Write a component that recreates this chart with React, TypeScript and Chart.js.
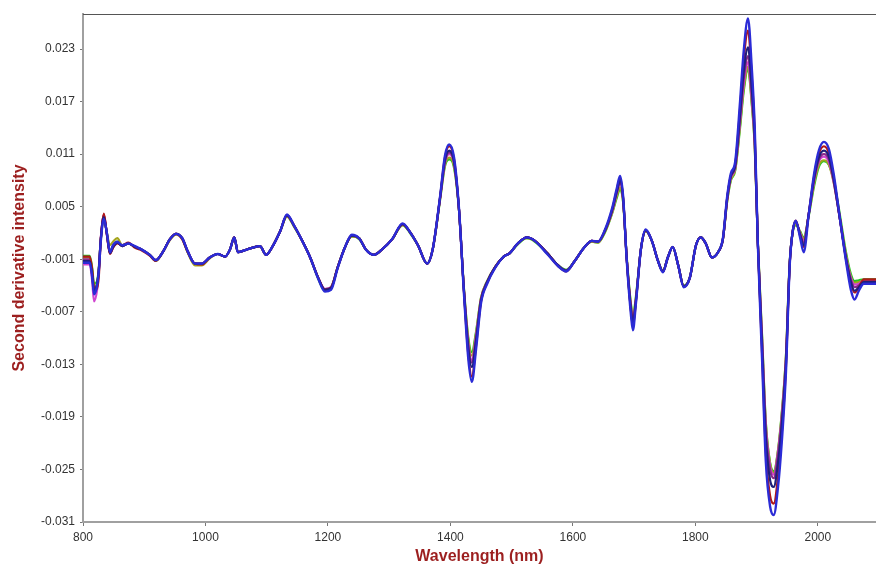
import React, { useEffect, useRef } from "react";
import { Chart, registerables } from "chart.js";

Chart.register(...registerables);

const WAVELENGTHS = [
  800, 811, 815, 818, 823, 826, 829, 834, 839, 844,
  849, 856, 864, 874, 885, 896, 909, 919, 931, 942,
  952, 962, 971, 983, 994, 1007, 1020, 1032, 1040, 1047,
  1053, 1063, 1076, 1089, 1099, 1109, 1122, 1133, 1145, 1158,
  1171, 1184, 1195, 1205, 1216, 1228, 1239, 1251, 1262, 1275,
  1288, 1305, 1322, 1334, 1347, 1362, 1371, 1383, 1391, 1398,
  1406, 1414, 1422, 1429, 1435, 1442, 1450, 1460, 1473, 1487,
  1497, 1510, 1525, 1538, 1558, 1576, 1589, 1603, 1618, 1631,
  1641, 1652, 1664, 1672, 1677, 1682, 1688, 1695, 1698, 1703,
  1711, 1719, 1729, 1739, 1747, 1755, 1763, 1772, 1781, 1791,
  1801, 1809, 1817, 1827, 1837, 1845, 1852, 1858, 1865, 1873,
  1879, 1886, 1892, 1897, 1902, 1909, 1915, 1922, 1928, 1935,
  1941, 1948, 1954, 1959, 1964, 1971, 1977, 1985, 1994, 2002,
  2010, 2018, 2026, 2036, 2046, 2054, 2060, 2067, 2075, 2095,
];

const BLUE = [
  -0.0014, -0.0014, -0.0030, -0.0050, -0.0040, -0.0022, 0.0010, 0.0036, 0.0020, -0.0002,
  0.0006, 0.0010, 0.0006, 0.0008, 0.0005, 0.0001, -0.0005, -0.0011, -0.0001, 0.0013,
  0.0019, 0.0014, -0.0001, -0.0015, -0.0015, -0.0008, -0.0004, -0.0007, 0.0001, 0.0015,
  -0.0002, 0.0000, 0.0003, 0.0005, -0.0005, 0.0004, 0.0022, 0.0041, 0.0028, 0.0011,
  -0.0008, -0.0032, -0.0047, -0.0045, -0.0020, 0.0004, 0.0018, 0.0014, 0.0001, -0.0005,
  0.0001, 0.0013, 0.0031, 0.0021, 0.0006, -0.0015, 0.0001, 0.0061, 0.0108, 0.0121,
  0.0106, 0.0048, -0.0048, -0.0122, -0.0150, -0.0112, -0.0060, -0.0038, -0.0020, -0.0007,
  -0.0003, 0.0008, 0.0015, 0.0011, -0.0004, -0.0018, -0.0024, -0.0012, 0.0003, 0.0011,
  0.0010, 0.0023, 0.0048, 0.0072, 0.0085, 0.0062, -0.0012, -0.0075, -0.0091, -0.0060,
  0.0001, 0.0024, 0.0011, -0.0012, -0.0025, -0.0008, 0.0004, -0.0017, -0.0042, -0.0031,
  0.0006, 0.0015, 0.0008, -0.0008, -0.0002, 0.0014, 0.0062, 0.0088, 0.0101, 0.0170,
  0.0228, 0.0265, 0.0210, 0.0140, 0.0008, -0.0125, -0.0240, -0.0292, -0.0302, -0.0270,
  -0.0220, -0.0138, -0.0018, 0.0022, 0.0034, 0.0015, -0.0002, 0.0040, 0.0088, 0.0115,
  0.0124, 0.0116, 0.0087, 0.0037, -0.0012, -0.0045, -0.0056, -0.0046, -0.0038, -0.0038,
];

const RED = [
  -0.0007, -0.0007, -0.0022, -0.0042, -0.0044, -0.0028, 0.0012, 0.0042, 0.0018, -0.0004,
  0.0003, 0.0008, 0.0006, 0.0009, 0.0003, 0.0000, -0.0006, -0.0012, -0.0001, 0.0013,
  0.0019, 0.0013, -0.0002, -0.0015, -0.0016, -0.0008, -0.0004, -0.0007, 0.0001, 0.0015,
  -0.0002, 0.0000, 0.0003, 0.0005, -0.0005, 0.0004, 0.0022, 0.0040, 0.0028, 0.0011,
  -0.0008, -0.0031, -0.0045, -0.0043, -0.0019, 0.0004, 0.0017, 0.0014, 0.0001, -0.0005,
  0.0001, 0.0013, 0.0030, 0.0021, 0.0006, -0.0015, 0.0001, 0.0060, 0.0106, 0.0119,
  0.0104, 0.0047, -0.0046, -0.0117, -0.0144, -0.0108, -0.0058, -0.0037, -0.0019, -0.0007,
  -0.0003, 0.0008, 0.0015, 0.0011, -0.0003, -0.0018, -0.0024, -0.0012, 0.0003, 0.0011,
  0.0010, 0.0022, 0.0046, 0.0070, 0.0083, 0.0060, -0.0011, -0.0070, -0.0086, -0.0058,
  0.0001, 0.0023, 0.0011, -0.0012, -0.0024, -0.0008, 0.0004, -0.0017, -0.0041, -0.0031,
  0.0006, 0.0015, 0.0008, -0.0008, -0.0002, 0.0013, 0.0060, 0.0086, 0.0098, 0.0162,
  0.0218, 0.0251, 0.0200, 0.0134, 0.0009, -0.0118, -0.0230, -0.0280, -0.0289, -0.0258,
  -0.0210, -0.0132, -0.0017, 0.0022, 0.0034, 0.0017, 0.0004, 0.0041, 0.0085, 0.0111,
  0.0119, 0.0111, 0.0083, 0.0037, -0.0010, -0.0038, -0.0048, -0.0042, -0.0033, -0.0033,
];

const NAVY = [
  -0.0012, -0.0012, -0.0028, -0.0046, -0.0038, -0.0020, 0.0012, 0.0038, 0.0019, -0.0003,
  0.0004, 0.0009, 0.0005, 0.0008, 0.0004, 0.0001, -0.0005, -0.0011, -0.0001, 0.0013,
  0.0019, 0.0014, -0.0001, -0.0015, -0.0015, -0.0008, -0.0004, -0.0007, 0.0001, 0.0015,
  -0.0002, 0.0000, 0.0003, 0.0005, -0.0005, 0.0004, 0.0022, 0.0040, 0.0028, 0.0011,
  -0.0008, -0.0031, -0.0045, -0.0043, -0.0019, 0.0004, 0.0017, 0.0014, 0.0001, -0.0005,
  0.0001, 0.0013, 0.0030, 0.0021, 0.0006, -0.0015, 0.0001, 0.0060, 0.0103, 0.0114,
  0.0101, 0.0047, -0.0045, -0.0110, -0.0133, -0.0102, -0.0057, -0.0036, -0.0019, -0.0007,
  -0.0003, 0.0008, 0.0015, 0.0011, -0.0003, -0.0017, -0.0023, -0.0012, 0.0003, 0.0011,
  0.0010, 0.0022, 0.0046, 0.0068, 0.0080, 0.0060, -0.0010, -0.0069, -0.0083, -0.0057,
  0.0001, 0.0023, 0.0011, -0.0012, -0.0024, -0.0008, 0.0004, -0.0017, -0.0041, -0.0031,
  0.0006, 0.0015, 0.0008, -0.0008, -0.0002, 0.0013, 0.0060, 0.0085, 0.0097, 0.0155,
  0.0204, 0.0232, 0.0186, 0.0128, 0.0009, -0.0110, -0.0212, -0.0262, -0.0270, -0.0242,
  -0.0200, -0.0128, -0.0016, 0.0022, 0.0033, 0.0018, 0.0006, 0.0041, 0.0083, 0.0107,
  0.0114, 0.0107, 0.0081, 0.0036, -0.0009, -0.0036, -0.0046, -0.0042, -0.0036, -0.0036,
];

const PURPLE = [
  -0.0010, -0.0010, -0.0027, -0.0047, -0.0039, -0.0021, 0.0013, 0.0040, 0.0019, -0.0003,
  0.0004, 0.0009, 0.0005, 0.0008, 0.0004, 0.0001, -0.0005, -0.0011, -0.0001, 0.0013,
  0.0019, 0.0014, -0.0001, -0.0015, -0.0015, -0.0008, -0.0004, -0.0007, 0.0001, 0.0015,
  -0.0002, 0.0000, 0.0003, 0.0005, -0.0005, 0.0004, 0.0022, 0.0040, 0.0028, 0.0011,
  -0.0008, -0.0031, -0.0044, -0.0042, -0.0019, 0.0004, 0.0017, 0.0014, 0.0001, -0.0005,
  0.0001, 0.0013, 0.0030, 0.0021, 0.0006, -0.0015, 0.0001, 0.0059, 0.0101, 0.0112,
  0.0100, 0.0047, -0.0044, -0.0107, -0.0128, -0.0099, -0.0056, -0.0036, -0.0019, -0.0007,
  -0.0003, 0.0008, 0.0015, 0.0011, -0.0003, -0.0017, -0.0023, -0.0012, 0.0003, 0.0011,
  0.0010, 0.0022, 0.0045, 0.0067, 0.0078, 0.0059, -0.0010, -0.0067, -0.0081, -0.0056,
  0.0001, 0.0023, 0.0011, -0.0012, -0.0024, -0.0008, 0.0004, -0.0017, -0.0041, -0.0031,
  0.0006, 0.0015, 0.0008, -0.0008, -0.0002, 0.0013, 0.0059, 0.0084, 0.0095, 0.0150,
  0.0196, 0.0222, 0.0179, 0.0124, 0.0009, -0.0105, -0.0204, -0.0250, -0.0260, -0.0233,
  -0.0193, -0.0124, -0.0016, 0.0022, 0.0033, 0.0019, 0.0009, 0.0041, 0.0081, 0.0104,
  0.0110, 0.0104, 0.0079, 0.0036, -0.0008, -0.0033, -0.0042, -0.0040, -0.0035, -0.0035,
];

const MAGENTA = [
  -0.0016, -0.0016, -0.0035, -0.0058, -0.0045, -0.0022, 0.0014, 0.0041, 0.0018, -0.0003,
  0.0004, 0.0009, 0.0005, 0.0008, 0.0004, 0.0001, -0.0005, -0.0011, -0.0001, 0.0013,
  0.0019, 0.0014, -0.0001, -0.0015, -0.0015, -0.0008, -0.0004, -0.0007, 0.0001, 0.0015,
  -0.0002, 0.0000, 0.0003, 0.0005, -0.0005, 0.0004, 0.0022, 0.0040, 0.0028, 0.0011,
  -0.0008, -0.0031, -0.0044, -0.0042, -0.0019, 0.0004, 0.0017, 0.0014, 0.0001, -0.0005,
  0.0001, 0.0013, 0.0030, 0.0021, 0.0006, -0.0015, 0.0001, 0.0059, 0.0100, 0.0110,
  0.0099, 0.0047, -0.0044, -0.0105, -0.0125, -0.0097, -0.0055, -0.0036, -0.0019, -0.0007,
  -0.0003, 0.0008, 0.0015, 0.0011, -0.0003, -0.0017, -0.0023, -0.0012, 0.0003, 0.0011,
  0.0010, 0.0022, 0.0044, 0.0066, 0.0077, 0.0058, -0.0010, -0.0066, -0.0080, -0.0055,
  0.0001, 0.0023, 0.0011, -0.0012, -0.0024, -0.0008, 0.0004, -0.0017, -0.0041, -0.0031,
  0.0006, 0.0015, 0.0008, -0.0008, -0.0002, 0.0013, 0.0058, 0.0083, 0.0094, 0.0147,
  0.0190, 0.0215, 0.0174, 0.0121, 0.0009, -0.0102, -0.0200, -0.0246, -0.0256, -0.0230,
  -0.0190, -0.0122, -0.0016, 0.0022, 0.0032, 0.0020, 0.0011, 0.0041, 0.0080, 0.0102,
  0.0107, 0.0101, 0.0078, 0.0036, -0.0007, -0.0031, -0.0039, -0.0038, -0.0034, -0.0034,
];

const OLIVE = [
  -0.0008, -0.0008, -0.0024, -0.0043, -0.0037, -0.0020, 0.0012, 0.0037, 0.0020, 0.0006,
  0.0010, 0.0014, 0.0006, 0.0008, 0.0004, 0.0001, -0.0005, -0.0011, -0.0001, 0.0012,
  0.0018, 0.0013, -0.0002, -0.0017, -0.0017, -0.0009, -0.0004, -0.0007, 0.0001, 0.0015,
  -0.0002, 0.0000, 0.0003, 0.0005, -0.0005, 0.0004, 0.0022, 0.0039, 0.0027, 0.0011,
  -0.0008, -0.0031, -0.0045, -0.0042, -0.0019, 0.0004, 0.0016, 0.0014, 0.0001, -0.0005,
  0.0001, 0.0013, 0.0029, 0.0021, 0.0006, -0.0015, 0.0001, 0.0058, 0.0098, 0.0106,
  0.0096, 0.0046, -0.0043, -0.0101, -0.0120, -0.0094, -0.0054, -0.0035, -0.0019, -0.0007,
  -0.0003, 0.0008, 0.0014, 0.0011, -0.0003, -0.0017, -0.0023, -0.0012, 0.0003, 0.0010,
  0.0009, 0.0021, 0.0043, 0.0063, 0.0072, 0.0056, -0.0009, -0.0064, -0.0078, -0.0054,
  0.0001, 0.0022, 0.0011, -0.0012, -0.0024, -0.0008, 0.0004, -0.0017, -0.0041, -0.0031,
  0.0006, 0.0015, 0.0008, -0.0008, -0.0002, 0.0013, 0.0057, 0.0081, 0.0092, 0.0143,
  0.0185, 0.0210, 0.0170, 0.0120, 0.0010, -0.0100, -0.0197, -0.0243, -0.0254, -0.0228,
  -0.0188, -0.0120, -0.0015, 0.0021, 0.0030, 0.0021, 0.0013, 0.0040, 0.0077, 0.0098,
  0.0103, 0.0098, 0.0077, 0.0037, -0.0005, -0.0030, -0.0037, -0.0036, -0.0034, -0.0034,
];

const GREEN = [
  -0.0006, -0.0006, -0.0020, -0.0038, -0.0035, -0.0018, 0.0012, 0.0036, 0.0020, -0.0001,
  0.0005, 0.0010, 0.0005, 0.0008, 0.0004, 0.0001, -0.0005, -0.0012, -0.0001, 0.0013,
  0.0019, 0.0014, -0.0002, -0.0016, -0.0016, -0.0008, -0.0004, -0.0007, 0.0001, 0.0015,
  -0.0002, 0.0000, 0.0003, 0.0005, -0.0005, 0.0004, 0.0022, 0.0039, 0.0027, 0.0011,
  -0.0008, -0.0032, -0.0046, -0.0043, -0.0019, 0.0004, 0.0016, 0.0013, 0.0001, -0.0005,
  0.0001, 0.0013, 0.0029, 0.0020, 0.0006, -0.0015, 0.0001, 0.0057, 0.0096, 0.0104,
  0.0094, 0.0046, -0.0042, -0.0098, -0.0116, -0.0092, -0.0054, -0.0035, -0.0019, -0.0007,
  -0.0003, 0.0007, 0.0014, 0.0010, -0.0003, -0.0017, -0.0022, -0.0012, 0.0003, 0.0010,
  0.0009, 0.0020, 0.0042, 0.0061, 0.0070, 0.0055, -0.0008, -0.0062, -0.0074, -0.0052,
  0.0001, 0.0022, 0.0011, -0.0012, -0.0023, -0.0008, 0.0004, -0.0017, -0.0040, -0.0031,
  0.0006, 0.0015, 0.0008, -0.0008, -0.0002, 0.0013, 0.0056, 0.0080, 0.0091, 0.0140,
  0.0182, 0.0207, 0.0168, 0.0118, 0.0011, -0.0098, -0.0195, -0.0242, -0.0252, -0.0228,
  -0.0186, -0.0119, -0.0014, 0.0021, 0.0029, 0.0022, 0.0015, 0.0039, 0.0074, 0.0096,
  0.0102, 0.0098, 0.0080, 0.0041, -0.0002, -0.0027, -0.0035, -0.0034, -0.0033, -0.0033,
];

const Y_TICKS = [-0.031, -0.025, -0.019, -0.013, -0.007, -0.001, 0.005, 0.011, 0.017, 0.023];
const X_TICKS = [800, 1000, 1200, 1400, 1600, 1800, 2000];

const X_TITLE = "Wavelength (nm)";
const Y_TITLE = "Second derivative intensity";

// top-most first (Chart.js draws dataset 0 last)
const SERIES = [
  { name: "Sample 1", values: BLUE, color: "#2b2bd6", width: 2.4 },
  { name: "Sample 2", values: NAVY, color: "#1f1f7a", width: 2.2 },
  { name: "Sample 3", values: RED, color: "#b01818", width: 2.2 },
  { name: "Sample 4", values: PURPLE, color: "#8a2a8a", width: 2.2 },
  { name: "Sample 5", values: MAGENTA, color: "#d044d0", width: 2.2 },
  { name: "Sample 6", values: OLIVE, color: "#a4a41c", width: 2.2 },
  { name: "Sample 7", values: GREEN, color: "#22c822", width: 2.2 },
];

const topBorder = {
  id: "topBorder",
  afterDraw(chart: any) {
    const { ctx, chartArea } = chart;
    ctx.save();
    ctx.strokeStyle = "#555555";
    ctx.lineWidth = 1.2;
    ctx.beginPath();
    ctx.moveTo(chartArea.left, chartArea.top + 0.5);
    ctx.lineTo(chartArea.right, chartArea.top + 0.5);
    ctx.stroke();
    ctx.restore();
  },
};

export default function App() {
  const ref = useRef<HTMLCanvasElement | null>(null);

  useEffect(() => {
    if (!ref.current) return;
    Chart.defaults.font.family = "'Liberation Sans', Arial, sans-serif";
    const chart = new Chart(ref.current, {
      type: "line",
      data: {
        datasets: SERIES.map((s) => ({
          label: s.name,
          data: WAVELENGTHS.map((w, i) => ({ x: w, y: s.values[i] })),
          borderColor: s.color,
          backgroundColor: s.color,
          borderWidth: s.width,
          pointRadius: 0,
          fill: false,
          cubicInterpolationMode: "monotone" as const,
        })),
      },
      options: {
        responsive: false,
        animation: false,
        events: [],
        layout: { padding: { left: 0, top: 14, right: 0, bottom: 0 } },
        plugins: {
          legend: { display: false },
          tooltip: { enabled: false },
        },
        scales: {
          x: {
            type: "linear",
            min: 800,
            max: 2095,
            afterBuildTicks: (scale: any) => {
              scale.ticks = X_TICKS.map((v) => ({ value: v }));
            },
            afterFit: (scale: any) => {
              scale.height = 46;
            },
            ticks: {
              color: "#333333",
              font: { size: 12 },
              padding: 4,
              maxRotation: 0,
              autoSkip: false,
              callback: (v: any) => String(v),
            },
            grid: {
              drawOnChartArea: false,
              drawTicks: true,
              tickLength: 4,
              color: "#777777",
            },
            border: { color: "#a0a0a0", width: 2 },
            title: {
              display: true,
              text: X_TITLE,
              color: "#9c1f1f",
              font: { size: 16, weight: "bold" },
              padding: { top: 0, bottom: 2 },
            },
          },
          y: {
            type: "linear",
            min: -0.031,
            max: 0.027,
            afterBuildTicks: (scale: any) => {
              scale.ticks = Y_TICKS.map((v) => ({ value: v }));
            },
            afterFit: (scale: any) => {
              scale.width = 83;
            },
            ticks: {
              color: "#333333",
              font: { size: 12 },
              padding: 5,
              autoSkip: false,
              callback: (v: any) => Number(v).toFixed(3),
            },
            grid: {
              drawOnChartArea: false,
              drawTicks: true,
              tickLength: 3,
              color: "#777777",
            },
            border: { color: "#a0a0a0", width: 2 },
            title: {
              display: true,
              text: Y_TITLE,
              color: "#9c1f1f",
              font: { size: 16, weight: "bold" },
              padding: { top: 10, bottom: 0 },
            },
          },
        },
      },
      plugins: [topBorder],
    });
    return () => chart.destroy();
  }, []);

  return (
    <div style={{ position: "fixed", left: 0, top: 0, width: 876, height: 568, background: "#ffffff" }}>
      <canvas ref={ref} width={876} height={568} />
    </div>
  );
}
